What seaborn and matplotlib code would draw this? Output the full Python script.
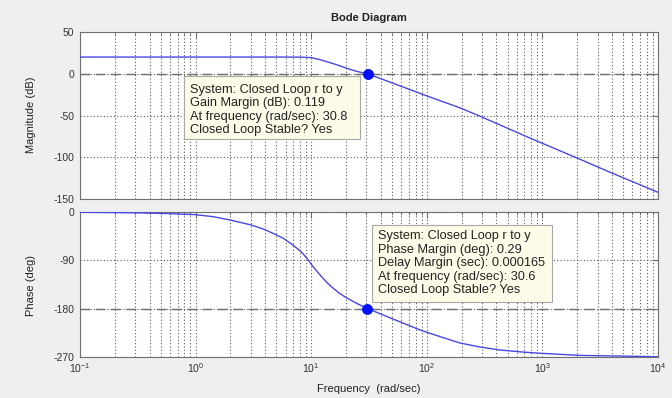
import matplotlib
matplotlib.use("Agg")
import matplotlib.pyplot as plt
import pandas as pd
import seaborn as sns
from matplotlib.patches import Rectangle
from matplotlib.ticker import LogLocator, NullFormatter, FixedLocator

# Closed loop r -> y frequency response
freq_mag = [0.1, 0.3, 1.0, 3.0, 5.4, 8.0, 10.0, 11.9, 14.6, 17.2, 20.3, 24.7,
            30.8, 48.0, 100.0, 195.0, 290.0, 780.0, 2000.0, 3850.0, 10000.0]
mag_db = [20.0, 20.0, 20.0, 20.0, 20.0, 19.9, 19.3, 16.9, 13.2, 10.1, 6.5, 2.9,
          -0.1, -10.0, -26.5, -41.0, -51.0, -77.0, -101.0, -118.0, -142.0]

freq_phase = [0.1, 0.3, 0.6, 1.0, 1.42, 2.0, 3.0, 3.86, 4.7, 5.74, 7.0, 8.28,
              9.4, 10.4, 11.9, 13.6, 15.5, 17.7, 20.3, 24.7, 30.6, 39.0, 48.0,
              58.6, 87.0, 107.0, 130.0, 194.0, 290.0, 430.0, 650.0, 950.0,
              2100.0, 10000.0]
phase_deg = [-0.5, -1.5, -3.0, -5.0, -8.7, -15.0, -24.0, -31.7, -40.0, -49.0,
             -62.0, -75.0, -89.0, -102.0, -117.0, -131.0, -142.0, -152.0, -160.0,
             -170.0, -179.7, -189.0, -197.0, -204.5, -219.5, -226.0, -232.0,
             -244.0, -251.5, -257.0, -260.5, -263.0, -267.0, -269.5]

# Stability margins
gm_freq, gm_db = 30.8, 0.119
pm_freq, pm_deg = 30.6, 0.29

mag_ticks = [50, 0, -50, -100, -150]
phase_ticks = [0, -90, -180, -270]
freq_ticks = [1e-1, 1e0, 1e1, 1e2, 1e3, 1e4]

gain_box_lines = ["System: Closed Loop r to y",
                  "Gain Margin (dB): 0.119",
                  "At frequency (rad/sec): 30.8",
                  "Closed Loop Stable? Yes"]
phase_box_lines = ["System: Closed Loop r to y",
                   "Phase Margin (deg): 0.29",
                   "Delay Margin (sec): 0.000165",
                   "At frequency (rad/sec): 30.6",
                   "Closed Loop Stable? Yes"]

sns.set_theme(style="white")
plt.rcParams["font.family"] = ["Liberation Sans", "DejaVu Sans"]
plt.rcParams["axes.unicode_minus"] = False

W, H = 672, 398
fig = plt.figure(figsize=(W / 100, H / 100), dpi=100, facecolor="#efefef")


def px_axes(left, top, right, bottom):
    return fig.add_axes([left / W, 1 - bottom / H, (right - left) / W, (bottom - top) / H])


def px(x, y):
    return x / W, 1 - y / H


ax_mag = px_axes(80, 32, 658, 199)
ax_ph = px_axes(80, 212, 658, 357)

line_color = "#4848e6"
grid_color = "#5c5c5c"
dot_color = "#0010ff"

mag_df = pd.DataFrame({"freq": freq_mag, "mag": mag_db})
ph_df = pd.DataFrame({"freq": freq_phase, "phase": phase_deg})

sns.lineplot(data=mag_df, x="freq", y="mag", ax=ax_mag, color=line_color, lw=1.0, zorder=3)
sns.lineplot(data=ph_df, x="freq", y="phase", ax=ax_ph, color=line_color, lw=1.0, zorder=3)

sns.scatterplot(x=[gm_freq], y=[-gm_db], ax=ax_mag, s=62, color=dot_color, linewidth=0, zorder=4)
sns.scatterplot(x=[pm_freq], y=[-180 + pm_deg], ax=ax_ph, s=62, color=dot_color, linewidth=0, zorder=4)

for ax, ylim, yticks, ref in [(ax_mag, (-150, 50), mag_ticks, 0),
                              (ax_ph, (-270, 0), phase_ticks, -180)]:
    ax.set_facecolor("white")
    ax.set_xscale("log")
    ax.set_xlim(1e-1, 1e4)
    ax.set_ylim(*ylim)
    ax.yaxis.set_major_locator(FixedLocator(yticks))
    ax.xaxis.set_major_locator(FixedLocator(freq_ticks))
    ax.xaxis.set_minor_locator(LogLocator(base=10, subs=range(2, 10), numticks=20))
    ax.xaxis.set_minor_formatter(NullFormatter())
    ax.grid(True, which="both", axis="x", color=grid_color, lw=0.8, ls=(0, (1, 2)))
    ax.grid(True, which="major", axis="y", color=grid_color, lw=0.8, ls=(0, (1, 2)))
    ax.axhline(ref, color="#6e6e6e", lw=1.0, ls=(0, (7, 4)), zorder=2)
    ax.tick_params(which="both", direction="in", top=True, right=True,
                   color="#555555", labelsize=7.5, labelcolor="#333333")
    ax.tick_params(which="major", length=4, width=0.6)
    ax.tick_params(which="minor", length=2, width=0.5)
    ax.tick_params(axis="y", pad=4)
    ax.tick_params(axis="x", pad=3)
    for s in ax.spines.values():
        s.set_color("#707070")
        s.set_linewidth(0.8)
    ax.set_xlabel("")
    ax.set_ylabel("")

ax_mag.tick_params(axis="x", labelbottom=False)

fig.text(*px(369, 18), "Bode Diagram", ha="center", va="center",
         fontsize=8, fontweight="bold", color="#222222")
fig.text(*px(31, 115), "Magnitude (dB)", rotation=90, ha="center", va="center",
         fontsize=8, color="#222222")
fig.text(*px(31, 285), "Phase (deg)", rotation=90, ha="center", va="center",
         fontsize=8, color="#222222")
fig.text(*px(369, 389), "Frequency  (rad/sec)", ha="center", va="center",
         fontsize=8, color="#222222")


def data_tip(left, top, right, bottom, lines, first_y, step):
    x0, y0 = px(left, bottom)
    fig.patches.append(Rectangle((x0, y0), (right - left) / W, (bottom - top) / H,
                                 transform=fig.transFigure, facecolor="#fdfce8",
                                 edgecolor="#a8a8a8", lw=0.8, zorder=5))
    for i, txt in enumerate(lines):
        fig.text(*px(left + 6, first_y + i * step), txt, ha="left", va="center",
                 fontsize=9.2, color="#222222", zorder=6)


data_tip(184, 76, 360, 139, gain_box_lines, 90, 13.4)
data_tip(372, 225, 552, 302, phase_box_lines, 236, 13.6)

fig.savefig("out.png", dpi=100, facecolor=fig.get_facecolor())
